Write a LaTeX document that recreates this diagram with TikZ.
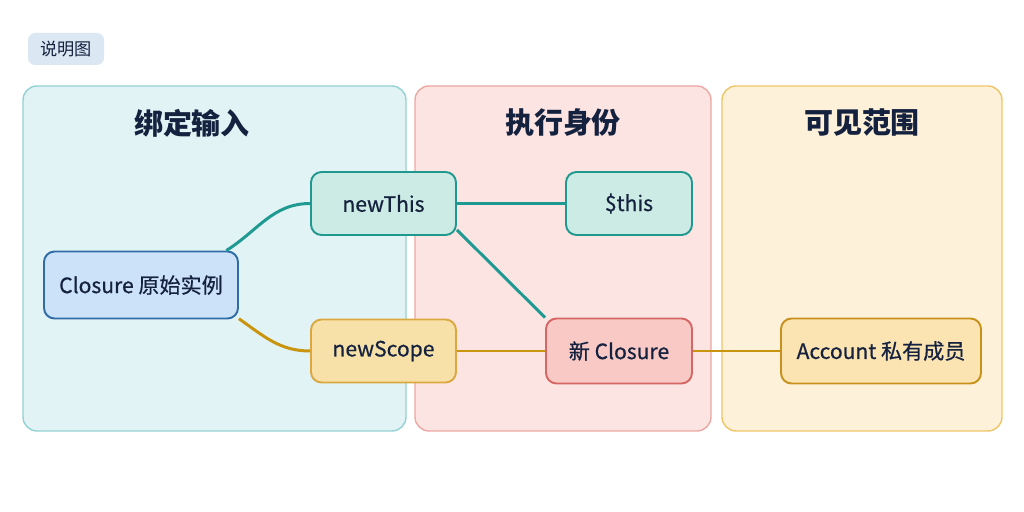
\documentclass[tikz,border=0pt]{standalone}
\usepackage{fontspec}
\setmainfont{Noto Sans CJK SC}
\newfontfamily\itemfont{Noto Sans CJK SC}[FakeBold=0.6]
\usepackage{tikz}
\usetikzlibrary{arrows.meta,positioning,calc}
\definecolor{inkblue}{HTML}{15223F}
\definecolor{bindfill}{HTML}{E2F3F5}
\definecolor{binddraw}{HTML}{93D2D2}
\definecolor{execfill}{HTML}{FBE4E2}
\definecolor{execdraw}{HTML}{EDA8A3}
\definecolor{viewfill}{HTML}{FDF1DA}
\definecolor{viewdraw}{HTML}{EFC667}
\definecolor{origfill}{HTML}{CCE2F8}
\definecolor{origdraw}{HTML}{2F6CA6}
\definecolor{thisfill}{HTML}{CDEBE5}
\definecolor{thisdraw}{HTML}{1F9890}
\definecolor{scopefill}{HTML}{F8E1A9}
\definecolor{scopedraw}{HTML}{DBA83F}
\definecolor{newfill}{HTML}{F9C9C5}
\definecolor{newdraw}{HTML}{D56663}
\definecolor{acctfill}{HTML}{FBE3B2}
\definecolor{acctdraw}{HTML}{C8911C}
\definecolor{tealline}{HTML}{1E9A92}
\definecolor{goldline}{HTML}{C9950F}
\definecolor{legendfill}{HTML}{DCE7F4}

\begin{document}
\begin{tikzpicture}[
  every node/.style={font=\fontsize{12}{14}\selectfont,text=inkblue},
  panel/.style={rectangle,rounded corners=8pt,line width=0.8pt,minimum height=6.9cm,inner sep=0pt},
  title/.style={font=\fontsize{16.5}{18}\selectfont\bfseries},
  item/.style={rectangle,rounded corners=6pt,line width=1.1pt,minimum height=1.26cm,align=center,font=\itemfont\fontsize{12}{14}\selectfont},
  tealedge/.style={line width=1.7pt,color=tealline},
  goldedge/.style={line width=1.7pt,color=goldline}
]
\useasboundingbox (0,0) rectangle (20.48,10.24);
\fill[white] (0,0) rectangle (20.48,10.24);

% legend tag
\node[rectangle,rounded corners=4pt,fill=legendfill,minimum width=1.52cm,minimum height=0.64cm,font=\fontsize{9.8}{11}\selectfont] (legend) at (1.32,9.26) {说明图};

% three panels
\node[panel,fill=bindfill,draw=binddraw,minimum width=7.66cm] (bind) at (4.29,5.07) {};
\node[panel,fill=execfill,draw=execdraw,minimum width=5.92cm] (exec) at (11.26,5.07) {};
\node[panel,fill=viewfill,draw=viewdraw,minimum width=5.60cm] (view) at (17.24,5.07) {};
\node[title] (bindtitle) at (3.84,7.78) {绑定输入};
\node[title] (exectitle) at (11.26,7.78) {执行身份};
\node[title] (viewtitle) at (17.24,7.78) {可见范围};

% items
\node[item,fill=origfill,draw=origdraw,minimum width=3.88cm,minimum height=1.34cm] (orig) at (2.82,4.54) {Closure 原始实例};
\node[item,fill=thisfill,draw=thisdraw,minimum width=2.90cm] (newthis) at (7.67,6.17) {newThis};
\node[item,fill=thisfill,draw=thisdraw,minimum width=2.52cm] (selfthis) at (12.58,6.17) {\$this};
\node[item,fill=scopefill,draw=scopedraw,minimum width=2.90cm] (newscope) at (7.67,3.22) {newScope};
\node[item,fill=newfill,draw=newdraw,minimum width=2.92cm,minimum height=1.30cm] (newclos) at (12.38,3.22) {新 Closure};
\node[item,fill=acctfill,draw=acctdraw,minimum width=4.00cm,minimum height=1.30cm] (acct) at (17.62,3.22) {Account 私有成员};

% connectors
\draw[tealedge] (orig.22) to[out=32,in=180] (newthis.west);
\draw[goldedge] (orig.-19) to[out=-35,in=180] (newscope.west);
\draw[tealedge] (newthis.east) -- (selfthis.west);
\draw[tealedge] (newthis.south east) ++(0,0.12) -- (newclos.north west);
\draw[goldedge] (newscope.east) -- (newclos.west);
\draw[goldedge] (newclos.east) -- (acct.west);
\end{tikzpicture}
\end{document}
